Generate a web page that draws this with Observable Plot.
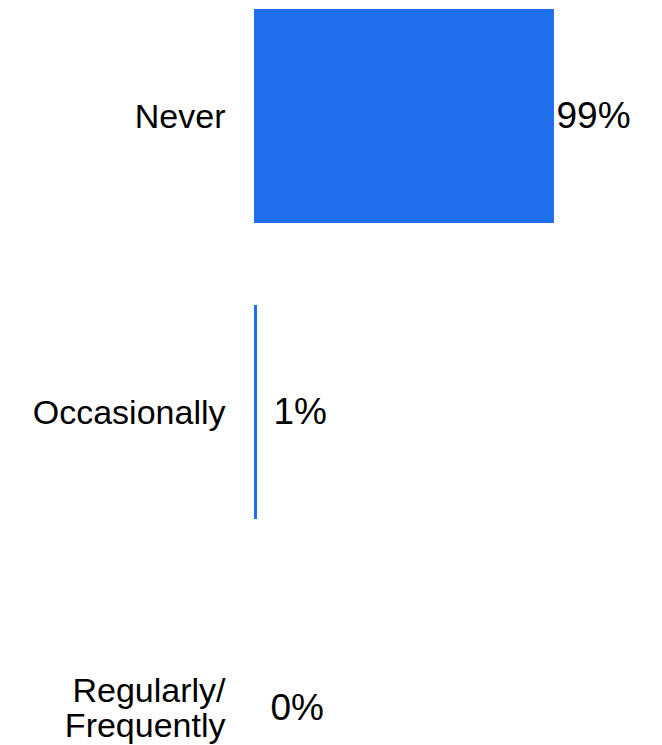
<!DOCTYPE html>
<html>
<head>
<meta charset="utf-8">
<script src="https://cdn.jsdelivr.net/npm/d3@7"></script>
<script src="https://cdn.jsdelivr.net/npm/@observablehq/plot@0.6"></script>
<style>
  html, body { margin: 0; padding: 0; background: #fff; }
</style>
</head>
<body>
<div id="chart"></div>
<script>
const categories = ["Never", "Occasionally", "Regularly/\nFrequently"];
const values = [99, 1, 0];
const labels = ["99%", "1%", "0%"];

const data = categories.map((c, i) => ({category: c, value: values[i], label: labels[i]}));

const chart = Plot.plot({
  width: 662,
  height: 745,
  marginLeft: 254,
  marginRight: 105,
  marginTop: 7,
  marginBottom: 0,
  style: {fontFamily: "'Liberation Sans', Arial, sans-serif", background: "#fff", overflow: "visible"},
  x: {domain: [0, 100], range: [254, 557], axis: null},
  y: {domain: categories, range: [7.5, 816.5], paddingInner: 0.276, paddingOuter: 0, label: null, axis: null},
  marks: [
    Plot.barX(data, {x: "value", y: "category", fill: "#1f6fea"}),
    Plot.axisY({anchor: "left", tickSize: 0, tickPadding: 29, fontSize: 34, lineHeight: 1.03, fill: "#000", label: null}),
    Plot.text(data.filter(d => d.value >= 50), {x: "value", y: "category", text: "label", textAnchor: "start", dx: 2, fontSize: 37, fill: "#000"}),
    Plot.text(data.filter(d => d.value < 50), {x: "value", y: "category", text: "label", textAnchor: "start", dx: 16, fontSize: 37, fill: "#000"})
  ]
});
document.getElementById("chart").appendChild(chart);
</script>
</body>
</html>
